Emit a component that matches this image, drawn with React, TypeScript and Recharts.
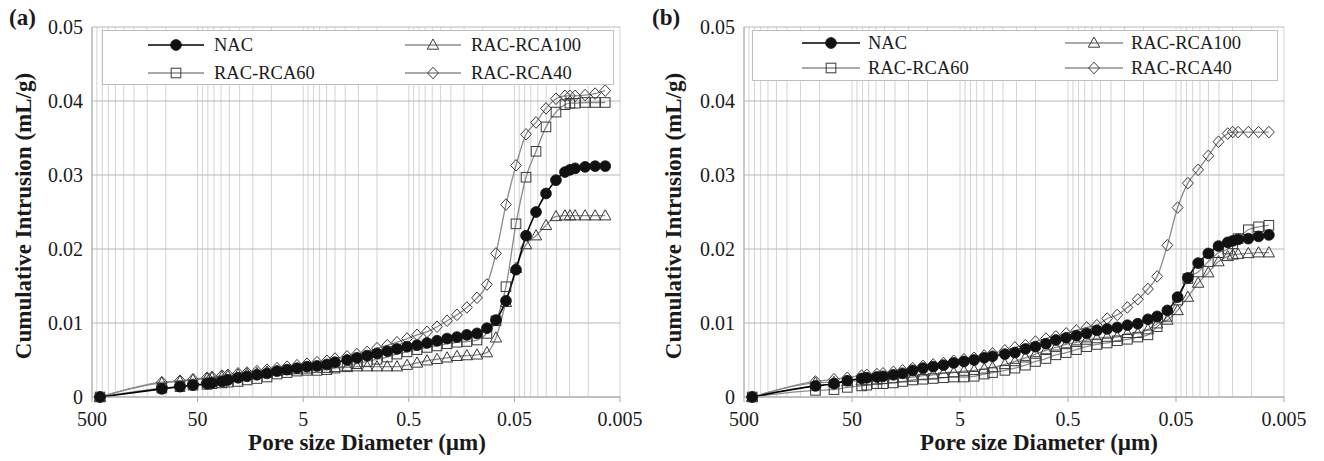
import React from 'react';
import { LineChart, Line, XAxis, YAxis, CartesianGrid, Legend } from 'recharts';

// Pore diameters (µm) of the intrusion steps, shared by both panels
const DIAMETER_UM = [420, 109, 73.4, 55.3, 40.7, 36.5, 29.4, 25.8, 20.7, 17.0, 13.7, 11.0, 8.85, 7.11, 5.72, 4.6, 3.7, 2.98, 2.5, 1.92, 1.55, 1.24, 1.0, 0.8, 0.647, 0.52, 0.418, 0.336, 0.27, 0.217, 0.175, 0.141, 0.113, 0.091, 0.0747, 0.0601, 0.0483, 0.0388, 0.0312, 0.0251, 0.0202, 0.0166, 0.0149, 0.0133, 0.0107, 0.0086, 0.0069];

// Panel (a)
const NAC_A = [0, 0.0011, 0.0014, 0.0016, 0.0018, 0.0019, 0.0021, 0.0023, 0.0026, 0.0028, 0.0030, 0.0032, 0.0035, 0.0037, 0.0039, 0.0041, 0.0042, 0.0044, 0.0047, 0.0050, 0.0053, 0.0056, 0.0059, 0.0062, 0.0065, 0.0068, 0.0070, 0.0073, 0.0076, 0.0079, 0.0081, 0.0084, 0.0086, 0.0093, 0.0104, 0.0130, 0.0172, 0.0218, 0.0250, 0.0275, 0.0293, 0.0304, 0.0307, 0.0309, 0.0311, 0.0312, 0.0312];
const RCA100_A = [0, 0.0019, 0.0021, 0.0023, 0.0025, 0.0026, 0.0027, 0.0028, 0.0030, 0.0031, 0.0032, 0.0034, 0.0035, 0.0036, 0.0037, 0.0038, 0.0039, 0.0039, 0.0040, 0.0040, 0.0041, 0.0041, 0.0041, 0.0041, 0.0041, 0.0043, 0.0046, 0.0049, 0.0051, 0.0053, 0.0055, 0.0056, 0.0057, 0.0060, 0.0080, 0.0128, 0.0174, 0.0206, 0.0218, 0.0232, 0.0244, 0.0245, 0.0245, 0.0245, 0.0245, 0.0245, 0.0245];
const RCA60_A = [0, 0.0012, 0.0014, 0.0016, 0.0017, 0.0018, 0.0019, 0.0020, 0.0021, 0.0023, 0.0025, 0.0027, 0.0031, 0.0033, 0.0035, 0.0036, 0.0036, 0.0037, 0.0039, 0.0042, 0.0045, 0.0048, 0.0051, 0.0054, 0.0058, 0.0061, 0.0064, 0.0067, 0.0069, 0.0072, 0.0074, 0.0075, 0.0077, 0.0086, 0.0103, 0.0149, 0.0234, 0.0297, 0.0332, 0.0365, 0.0385, 0.0395, 0.0397, 0.0397, 0.0398, 0.0398, 0.0398];
const RCA40_A = [0, 0.0020, 0.0022, 0.0024, 0.0026, 0.0027, 0.0029, 0.0030, 0.0032, 0.0033, 0.0035, 0.0037, 0.0039, 0.0041, 0.0043, 0.0045, 0.0047, 0.0049, 0.0052, 0.0055, 0.0058, 0.0061, 0.0066, 0.0070, 0.0074, 0.0079, 0.0084, 0.0088, 0.0095, 0.0103, 0.0111, 0.0121, 0.0134, 0.0152, 0.0194, 0.0260, 0.0313, 0.0355, 0.0371, 0.0390, 0.0403, 0.0407, 0.0407, 0.0407, 0.0408, 0.0410, 0.0414];

// Panel (b)
const NAC_B = [0, 0.0015, 0.0018, 0.0022, 0.0025, 0.0026, 0.0027, 0.0028, 0.0030, 0.0032, 0.0036, 0.0039, 0.0041, 0.0043, 0.0046, 0.0048, 0.0050, 0.0053, 0.0055, 0.0058, 0.0060, 0.0065, 0.0068, 0.0072, 0.0077, 0.0080, 0.0083, 0.0086, 0.0090, 0.0092, 0.0094, 0.0097, 0.0099, 0.0105, 0.0109, 0.0117, 0.0135, 0.0161, 0.0181, 0.0194, 0.0204, 0.0209, 0.0211, 0.0213, 0.0214, 0.0217, 0.0219];
const RCA100_B = [0, 0.0019, 0.0020, 0.0021, 0.0022, 0.0022, 0.0023, 0.0024, 0.0025, 0.0026, 0.0027, 0.0029, 0.0030, 0.0032, 0.0033, 0.0035, 0.0036, 0.0038, 0.0040, 0.0044, 0.0048, 0.0053, 0.0058, 0.0063, 0.0067, 0.0071, 0.0074, 0.0077, 0.0079, 0.0081, 0.0081, 0.0086, 0.0086, 0.0091, 0.0099, 0.0104, 0.0117, 0.0135, 0.0154, 0.0168, 0.0183, 0.0190, 0.0192, 0.0193, 0.0194, 0.0195, 0.0195];
const RCA60_B = [0, 0.0009, 0.0010, 0.0013, 0.0015, 0.0016, 0.0018, 0.0018, 0.0019, 0.0021, 0.0023, 0.0024, 0.0025, 0.0026, 0.0027, 0.0027, 0.0028, 0.0031, 0.0033, 0.0036, 0.0039, 0.0043, 0.0048, 0.0052, 0.0057, 0.0060, 0.0064, 0.0068, 0.0071, 0.0073, 0.0076, 0.0078, 0.0081, 0.0084, 0.0095, 0.0109, 0.0131, 0.0160, 0.0169, 0.0183, 0.0195, 0.0200, 0.0207, 0.0214, 0.0226, 0.0230, 0.0232];
const RCA40_B = [0, 0.0021, 0.0024, 0.0026, 0.0029, 0.0030, 0.0031, 0.0032, 0.0034, 0.0036, 0.0039, 0.0042, 0.0044, 0.0046, 0.0049, 0.0051, 0.0053, 0.0056, 0.0059, 0.0063, 0.0067, 0.0070, 0.0075, 0.0079, 0.0082, 0.0086, 0.0090, 0.0094, 0.0097, 0.0106, 0.0111, 0.0121, 0.0132, 0.0146, 0.0163, 0.0205, 0.0256, 0.0289, 0.0307, 0.0326, 0.0345, 0.0356, 0.0358, 0.0358, 0.0358, 0.0358, 0.0358];

const X_MAJOR_TICKS = [500, 50, 5, 0.5, 0.05, 0.005];
const X_MAJOR_LABELS = ['500', '50', '5', '0.5', '0.05', '0.005'];
const X_MINOR_MULTIPLIERS = [2, 3, 4, 5, 6, 7, 8, 9];
const Y_TICKS = [0, 0.01, 0.02, 0.03, 0.04, 0.05];
const Y_LABELS = ['0', '0.01', '0.02', '0.03', '0.04', '0.05'];

const SERIES = [
  { key: 'nac', name: 'NAC', kind: 'circle' },
  { key: 'rca100', name: 'RAC-RCA100', kind: 'triangle' },
  { key: 'rca60', name: 'RAC-RCA60', kind: 'square' },
  { key: 'rca40', name: 'RAC-RCA40', kind: 'diamond' },
];

const X_TITLE = 'Pore size Diameter (\u00b5m)';
const Y_TITLE = 'Cumulative Intrusion (mL/g)';

const FONT = "'Liberation Serif', 'Times New Roman', serif";
const TXT = '#1a1a1a';

// grid tick values (major decades + intermediate multiples)
const GRID_TICKS: number[] = (() => {
  const out: number[] = [];
  const bases = X_MAJOR_TICKS.slice().reverse(); // 0.005 ... 500
  bases.forEach((b, i) => {
    out.push(b);
    if (i < bases.length - 1) {
      X_MINOR_MULTIPLIERS.forEach((m) => out.push(Number((b * m).toPrecision(6))));
    }
  });
  return out;
})();

function buildRows(nac: number[], r100: number[], r60: number[], r40: number[]) {
  return DIAMETER_UM.map((d, i) => ({ d, nac: nac[i], rca100: r100[i], rca60: r60[i], rca40: r40[i] }));
}

const DATA_A = buildRows(NAC_A, RCA100_A, RCA60_A, RCA40_A);
const DATA_B = buildRows(NAC_B, RCA100_B, RCA60_B, RCA40_B);

function Marker({ kind, cx, cy }: { kind: string; cx: number; cy: number }) {
  const s = '#3a3a3a';
  if (kind === 'circle') return <circle cx={cx} cy={cy} r={5.4} fill="#111" stroke="#111" strokeWidth={0.8} />;
  if (kind === 'square') return <rect x={cx - 4.8} y={cy - 4.8} width={9.6} height={9.6} fill="none" stroke={s} strokeWidth={1} />;
  if (kind === 'triangle')
    return <polygon points={`${cx},${cy - 6} ${cx + 5.7},${cy + 4.2} ${cx - 5.7},${cy + 4.2}`} fill="none" stroke={s} strokeWidth={1} />;
  return <polygon points={`${cx},${cy - 5.8} ${cx + 5.4},${cy} ${cx},${cy + 5.8} ${cx - 5.4},${cy}`} fill="none" stroke={s} strokeWidth={1} />;
}

const makeDot = (kind: string) => (props: any) => {
  const { cx, cy, index } = props;
  if (cx == null || cy == null) return <g key={`e-${index}`} />;
  return <Marker key={`${kind}-${index}`} kind={kind} cx={cx} cy={cy} />;
};

const XTick = (props: any) => {
  const { x, y, payload } = props;
  const v = payload.value;
  const idx = X_MAJOR_TICKS.findIndex((m) => Math.abs(m - v) / m < 1e-6);
  if (idx < 0) return <g />;
  return (
    <g>
      <line x1={x} x2={x} y1={y} y2={y + 5} stroke="#a6a6a6" />
      <text x={x} y={y + 29} textAnchor="middle" fontSize={20} fill={TXT} fontFamily={FONT}>
        {X_MAJOR_LABELS[idx]}
      </text>
    </g>
  );
};

type LegendCfg = { w: number; h: number; col1: number; col2: number; row1: number; row2: number; lineLen: number; gap: number };

function LegendBox({ cfg }: { cfg: LegendCfg }) {
  const items = [
    { s: SERIES[0], x: cfg.col1, y: cfg.row1 },
    { s: SERIES[2], x: cfg.col1, y: cfg.row2 },
    { s: SERIES[1], x: cfg.col2, y: cfg.row1 },
    { s: SERIES[3], x: cfg.col2, y: cfg.row2 },
  ];
  return (
    <svg width={cfg.w} height={cfg.h} style={{ display: 'block' }}>
      <rect x={0.5} y={0.5} width={cfg.w - 1} height={cfg.h - 1} fill="#fff" stroke="#bfbfbf" />
      {items.map(({ s, x, y }) => (
        <g key={s.key}>
          <line x1={x} x2={x + cfg.lineLen} y1={y} y2={y} stroke={s.kind === 'circle' ? '#000' : '#8c8c8c'} strokeWidth={s.kind === 'circle' ? 1.6 : 1.3} />
          <Marker kind={s.kind} cx={x + cfg.lineLen / 2} cy={y} />
          <text x={x + cfg.lineLen + cfg.gap} y={y + 6} fontSize={18.5} fill={TXT} fontFamily={FONT}>
            {s.name}
          </text>
        </g>
      ))}
    </svg>
  );
}

function Panel({ data, width, margin, legendPos, legendCfg }: any) {
  return (
    <LineChart width={width} height={461} data={data} margin={margin}>
      <CartesianGrid horizontal={false} vertical stroke="#d4d4d4" strokeWidth={1} />
      <CartesianGrid horizontal vertical={false} stroke="#b8b8b8" strokeWidth={1} />
      <XAxis
        dataKey="d"
        type="number"
        scale="log"
        domain={[0.005, 500]}
        reversed
        ticks={GRID_TICKS}
        interval={0}
        tick={<XTick />}
        tickLine={false}
        tickSize={0}
        tickMargin={0}
        axisLine={{ stroke: '#a6a6a6' }}
        height={30}
        allowDataOverflow
      />
      <YAxis
        type="number"
        domain={[0, 0.05]}
        ticks={Y_TICKS}
        interval={0}
        tickFormatter={(v: number) => Y_LABELS[Y_TICKS.indexOf(v)] ?? String(v)}
        tick={{ fontSize: 20, fill: TXT, fontFamily: FONT }}
        tickLine={false}
        tickSize={0}
        tickMargin={9}
        axisLine={{ stroke: '#a6a6a6' }}
        width={60}
      />
      <Legend
        layout="vertical"
        align="center"
        verticalAlign="middle"
        wrapperStyle={{ position: 'absolute', left: legendPos.left, top: legendPos.top, width: legendCfg.w, height: legendCfg.h, margin: 0 }}
        content={() => <LegendBox cfg={legendCfg} />}
      />
      {[SERIES[1], SERIES[2], SERIES[3], SERIES[0]].map((s) => (
        <Line
          key={s.key}
          dataKey={s.key}
          name={s.name}
          type="monotone"
          stroke={s.kind === 'circle' ? '#000' : '#8c8c8c'}
          strokeWidth={s.kind === 'circle' ? 1.6 : 1.3}
          dot={makeDot(s.kind)}
          activeDot={false}
          isAnimationActive={false}
        />
      ))}
    </LineChart>
  );
}

export default function App() {
  const legendA: LegendCfg = { w: 512, h: 55, col1: 46, col2: 303, row1: 15, row2: 43, lineLen: 56, gap: 10 };
  const legendB: LegendCfg = { w: 526, h: 51, col1: 50, col2: 313, row1: 13, row2: 38, lineLen: 58, gap: 8 };
  return (
    <div style={{ position: 'absolute', left: 0, top: 0, width: 1324, height: 461, background: '#fff', fontFamily: FONT }}>
      <div style={{ position: 'absolute', left: 0, top: 0 }}>
        <Panel data={DATA_A} width={660} margin={{ top: 27, right: 40, left: 32, bottom: 34 }} legendPos={{ left: 102, top: 30 }} legendCfg={legendA} />
      </div>
      <div style={{ position: 'absolute', left: 662, top: 0 }}>
        <Panel data={DATA_B} width={662} margin={{ top: 27, right: 40, left: 22, bottom: 34 }} legendPos={{ left: 90, top: 30 }} legendCfg={legendB} />
      </div>
      <svg width={1324} height={461} style={{ position: 'absolute', left: 0, top: 0, pointerEvents: 'none' }}>
        <g fontFamily={FONT} fill={TXT} fontWeight="bold">
          <text x={9} y={25} fontSize={23}>(a)</text>
          <text x={652} y={25} fontSize={23}>(b)</text>
          <text x={367} y={450} fontSize={23} textAnchor="middle">{X_TITLE}</text>
          <text x={1039} y={450} fontSize={23} textAnchor="middle">{X_TITLE}</text>
          <text x={0} y={0} fontSize={23} textAnchor="middle" transform="translate(31,216) rotate(-90)">{Y_TITLE}</text>
          <text x={0} y={0} fontSize={23} textAnchor="middle" transform="translate(681,216) rotate(-90)">{Y_TITLE}</text>
        </g>
      </svg>
    </div>
  );
}
